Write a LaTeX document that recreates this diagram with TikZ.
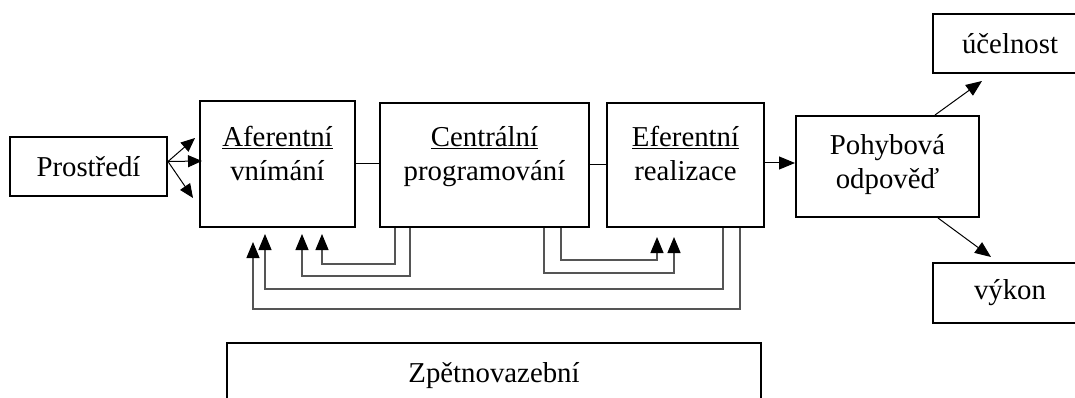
\documentclass[tikz,border=0pt]{standalone}
\usepackage{fontspec}
\setmainfont{Liberation Serif}
\usetikzlibrary{arrows.meta,calc}
\definecolor{fbgray}{RGB}{85,85,85}
\begin{document}
\begin{tikzpicture}[x=1pt,y=-1pt,
  box/.style={draw=black, line width=2pt, rectangle, inner sep=0pt, font=\fontsize{28.8}{33}\selectfont},
  lbl/.style={font=\fontsize{28.8}{33}\selectfont, inner sep=0pt, anchor=base},
  link/.style={line width=1pt},
  arr/.style={line width=1pt, -{Triangle[length=16pt,width=13pt]}},
  arrs/.style={line width=1pt, -{Triangle[length=14pt,width=12pt]}},
  fb/.style={draw=fbgray, line width=1.2pt, -{Triangle[length=16pt,width=13pt,color=black]}},
]
\path[use as bounding box] (0,0) rectangle (1075,398);

% boxes
\node[box, minimum width=157pt, minimum height=59pt] (env) at (88.5,166.5) {Prostředí};
\node[box, minimum width=155pt, minimum height=126pt] (aff) at (277.5,164) {};
\node[box, minimum width=209pt, minimum height=124pt] (cen) at (484.5,165) {};
\node[box, minimum width=157pt, minimum height=124pt] (eff) at (685.5,165) {};
\node[box, minimum width=183pt, minimum height=101pt] (poh) at (887.5,166.5) {};
\node[box, minimum width=154pt, minimum height=59pt] (uc) at (1010,43.5) {účelnost};
\node[box, minimum width=154pt, minimum height=60pt] (vyk) at (1010,293) {výkon};
\node[box, minimum width=534pt, minimum height=77pt] (zp) at (494,381.5) {};

% texts
\node[lbl] (afft1) at (277.5,147) {\underline{Aferentní}};
\node[lbl] (afft2) at (277.5,180) {vnímání};
\node[lbl] (cent1) at (484.5,147) {\underline{Centrální}};
\node[lbl] (cent2) at (484.5,180) {programování};
\node[lbl] (efft1) at (685.5,147) {\underline{Eferentní}};
\node[lbl] (efft2) at (685.5,180) {realizace};
\node[lbl] (poht1) at (887.5,155) {Pohybová};
\node[lbl] (poht2) at (887.5,189) {odpověď};
\node[lbl] (zpt) at (494,382) {Zpětnovazební};

% main chain
\draw[link] (aff.east) -- (aff.east -| cen.west);
\draw[link] (cen.east) -- (cen.east -| eff.west);
\draw[arr] ($(eff.east)+(0,-2)$) -- ($(poh.west |- eff.east)+(0,-2)$);

% environment fan
\draw[arrs] ($(env.east)+(0,-5)$) -- ($(aff.west)+(-4,-26)$);
\draw[arrs] ($(env.east)+(0,-5)$) -- ($(aff.west)+(3,-3)$);
\draw[arrs] ($(env.east)+(0,-5)$) -- ($(aff.west)+(-6,34)$);

% outputs
\draw[arr] ($(poh.north)+(47.5,0)$) -- ($(uc.south west)+(50,7)$);
\draw[arr] ($(poh.south)+(50.5,0)$) -- ($(vyk.north west)+(59,-5)$);

% feedback loops
\draw[fb] ($(eff.south west)+(134,0)$) -- ++(0,81) -| ($(aff.south west)+(54,14)$);
\draw[fb] ($(eff.south west)+(117,0)$) -- ++(0,61) -| ($(aff.south west)+(66,6)$);
\draw[fb] ($(cen.south west)+(31,0)$) -- ++(0,48) -| ($(aff.south west)+(103,6)$);
\draw[fb] ($(cen.south west)+(16,0)$) -- ++(0,36) -| ($(aff.south west)+(123,6)$);
\draw[fb] ($(cen.south west)+(182,0)$) -- ++(0,32) -| ($(eff.south west)+(51,9)$);
\draw[fb] ($(cen.south west)+(165,0)$) -- ++(0,45) -| ($(eff.south west)+(68,9)$);
\end{tikzpicture}
\end{document}
